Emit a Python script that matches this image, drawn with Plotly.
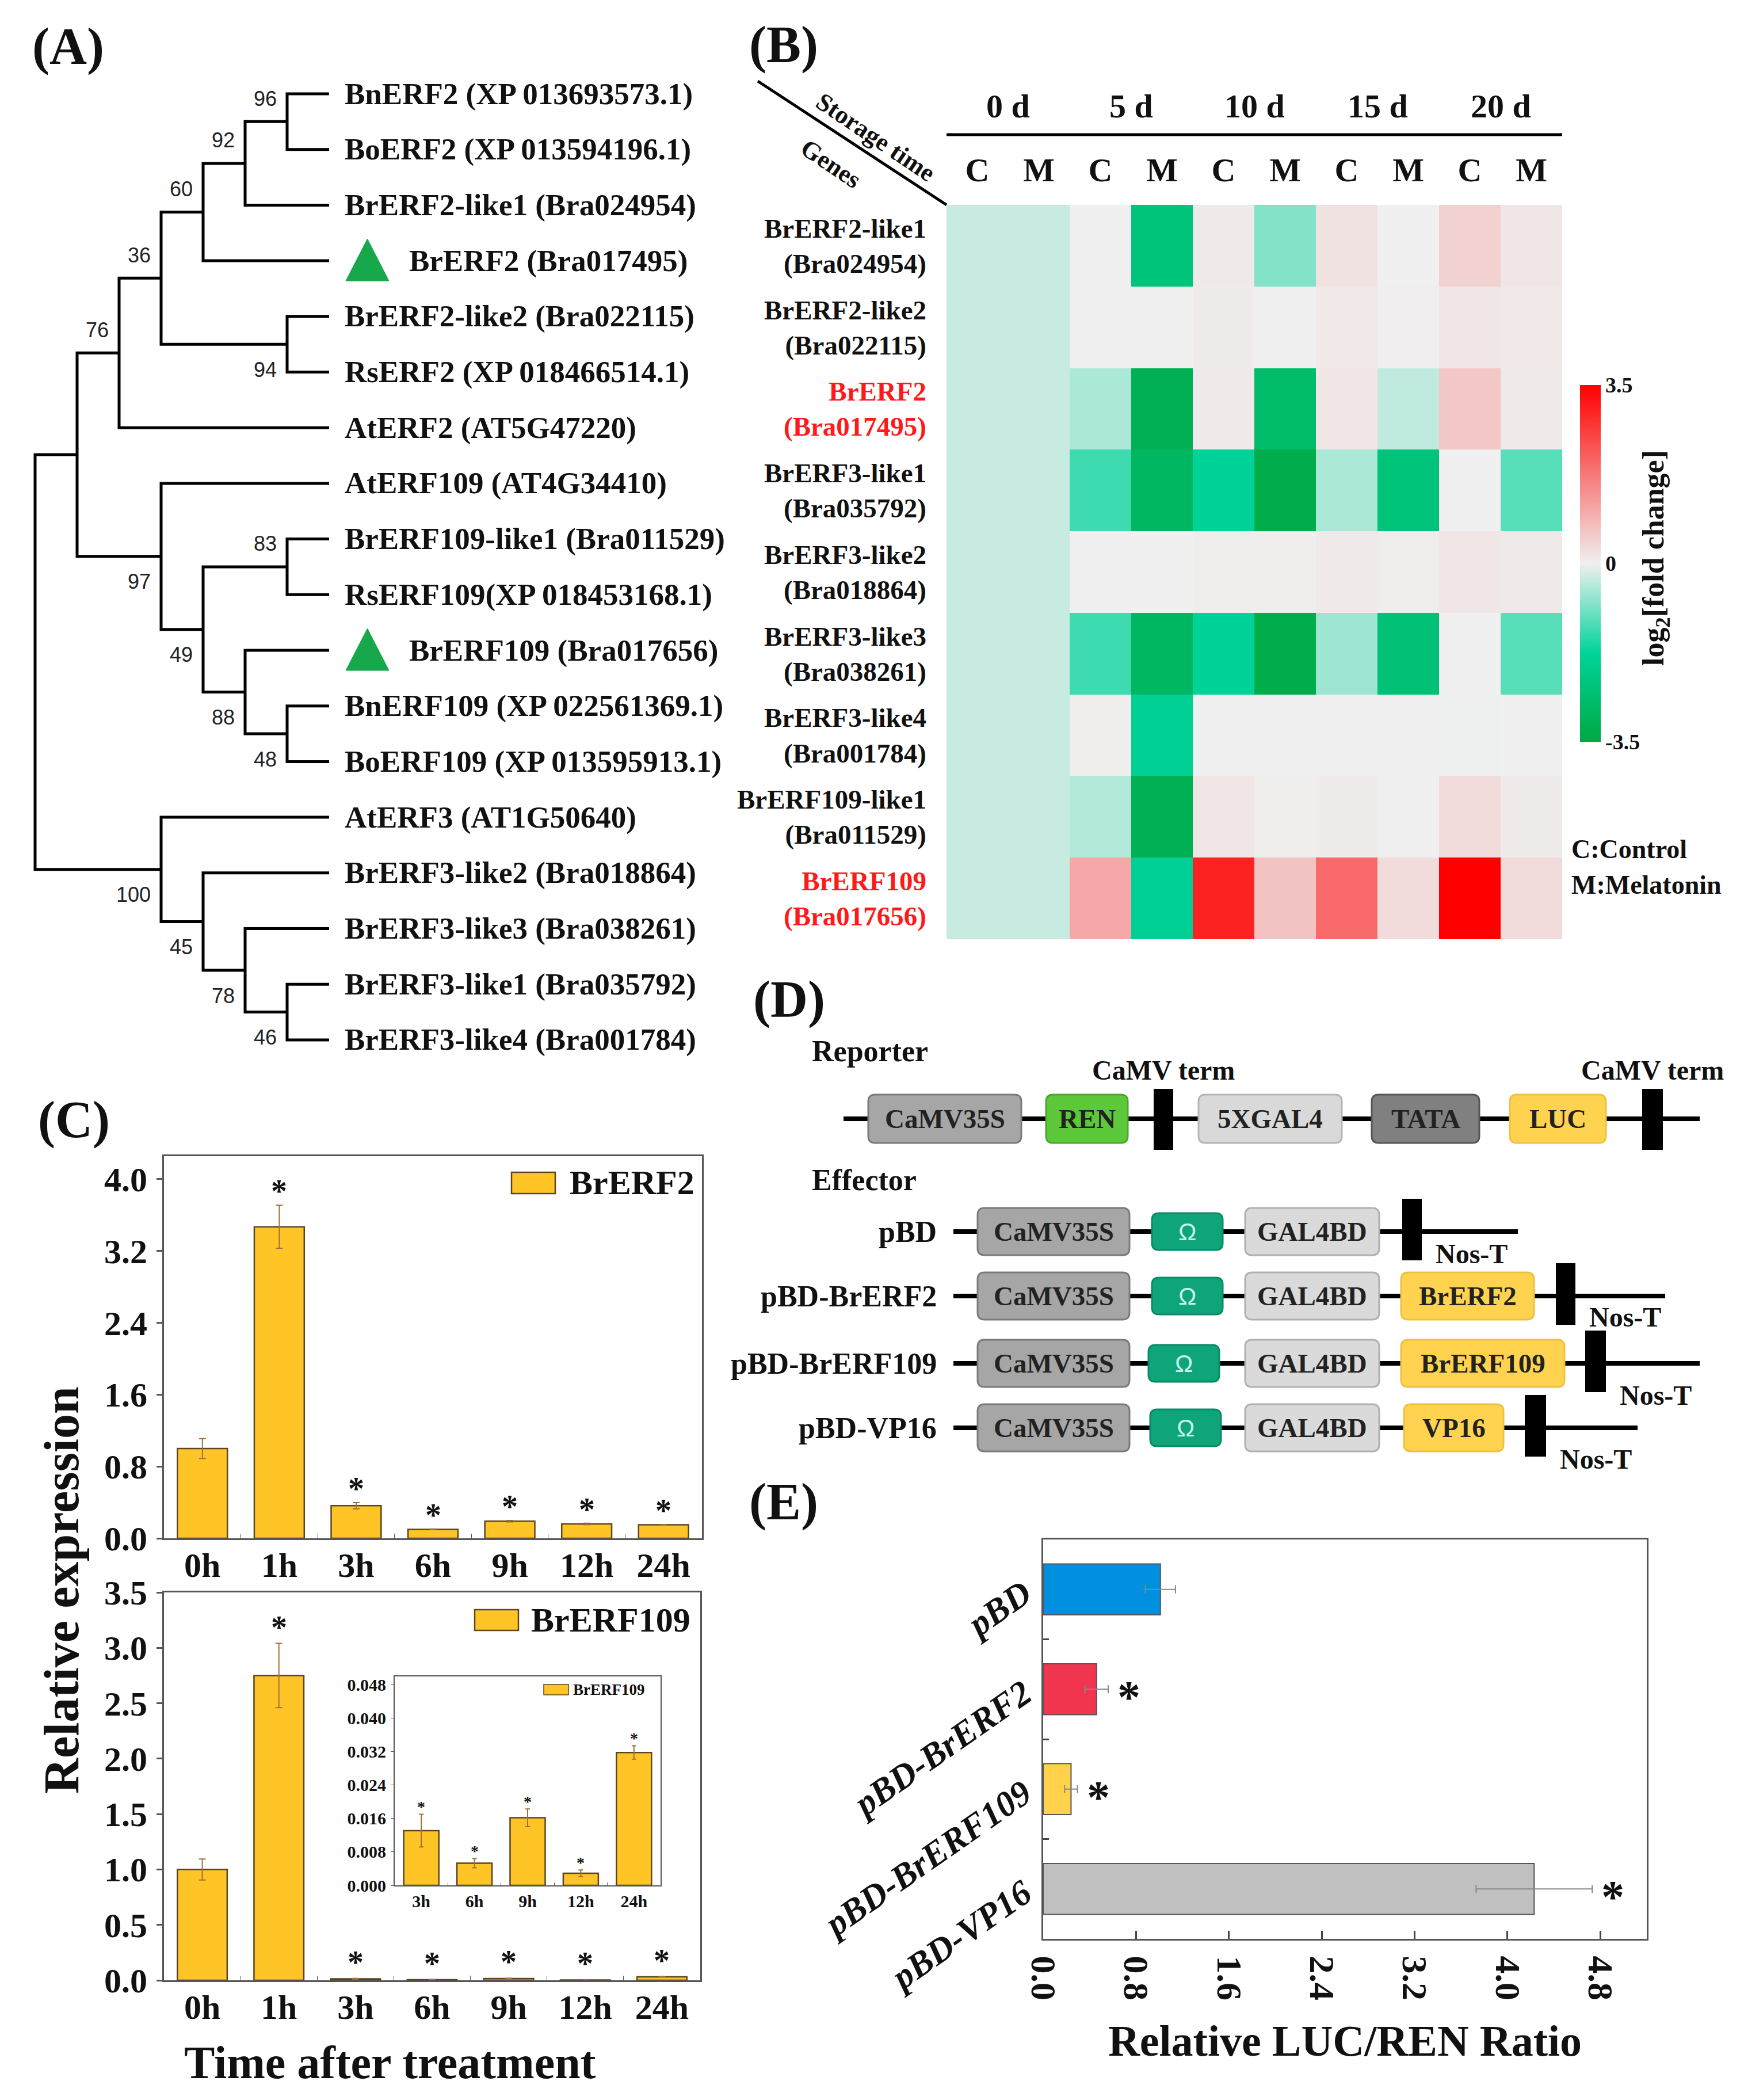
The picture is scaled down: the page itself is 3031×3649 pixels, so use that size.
import plotly.graph_objects as go

W, H = 3031, 3649
OFF = 8  # page body margin compensation (pixels)
SERIF = "Liberation Serif, Times New Roman, serif"
SANS = "Liberation Sans Narrow, Liberation Sans, Arial, sans-serif"
INK = "#111111"

# ---------------- Panel A: phylogenetic tree (topology + bootstrap) ----------------
tree = (None, [
    (None, [
        (76, [
            (36, [
                (60, [
                    (92, [
                        (96, ["BnERF2 (XP 013693573.1)", "BoERF2 (XP 013594196.1)"]),
                        "BrERF2-like1 (Bra024954)"]),
                    "BrERF2 (Bra017495)"]),
                (94, ["BrERF2-like2 (Bra022115)", "RsERF2 (XP 018466514.1)"])]),
            "AtERF2 (AT5G47220)"]),
        (97, [
            "AtERF109 (AT4G34410)",
            (49, [
                (83, ["BrERF109-like1 (Bra011529)", "RsERF109(XP 018453168.1)"]),
                (88, ["BrERF109 (Bra017656)",
                      (48, ["BnERF109 (XP 022561369.1)", "BoERF109 (XP 013595913.1)"])])])])]),
    (100, [
        "AtERF3 (AT1G50640)",
        (45, ["BrERF3-like2 (Bra018864)",
              (78, ["BrERF3-like3 (Bra038261)",
                    (46, ["BrERF3-like1 (Bra035792)", "BrERF3-like4 (Bra001784)"])])])])])
boot_above = {96, 92, 60, 36, 76, 83}
marked_leaves = {"BrERF2 (Bra017495)", "BrERF109 (Bra017656)"}

# ---------------- Panel B: heatmap ----------------
heat_genes = ["BrERF2-like1", "BrERF2-like2", "BrERF2", "BrERF3-like1", "BrERF3-like2",
              "BrERF3-like3", "BrERF3-like4", "BrERF109-like1", "BrERF109"]
heat_ids = ["Bra024954", "Bra022115", "Bra017495", "Bra035792", "Bra018864",
            "Bra038261", "Bra001784", "Bra011529", "Bra017656"]
heat_highlight = [False, False, True, False, False, False, False, False, True]
storage_days = ["0 d", "5 d", "10 d", "15 d", "20 d"]
treatments = ["C", "M"]
#            0C    0M    5C    5M    10C   10M   15C   15M   20C   20M
heat_values = [
    [-0.3, -0.3, 0.0, -2.4, 0.1, -0.8, 0.2, 0.0, 0.45, 0.15],
    [-0.3, -0.3, 0.0, 0.0, 0.08, 0.02, 0.12, 0.03, 0.15, 0.12],
    [-0.3, -0.3, -0.5, -3.2, 0.1, -2.7, 0.15, -0.35, 0.6, 0.1],
    [-0.3, -0.3, -1.3, -2.9, -1.8, -3.3, -0.5, -2.4, 0.0, -1.1],
    [-0.3, -0.3, 0.0, 0.0, 0.05, 0.05, 0.1, 0.05, 0.15, 0.1],
    [-0.3, -0.3, -1.3, -2.9, -1.8, -3.3, -0.6, -2.5, 0.0, -1.1],
    [-0.3, -0.3, 0.05, -1.9, 0.0, 0.0, 0.0, 0.0, -0.02, 0.0],
    [-0.3, -0.3, -0.45, -3.2, 0.15, 0.05, 0.08, 0.02, 0.3, 0.08],
    [-0.3, -0.3, 1.05, -1.9, 3.0, 0.65, 1.95, 0.3, 3.5, 0.3],
]

# ---------------- Panel C: qRT-PCR ----------------
times = ["0h", "1h", "3h", "6h", "9h", "12h", "24h"]
brerf2_expr = [1.0, 3.47, 0.363, 0.10, 0.19, 0.16, 0.15]
brerf2_err = [0.11, 0.24, 0.035, 0.004, 0.008, 0.008, 0.004]
brerf2_sig = [False, True, True, True, True, True, True]
brerf109_expr = [1.0, 2.75, 0.0131, 0.0053, 0.0162, 0.0029, 0.0318]
brerf109_err = [0.095, 0.29, 0.0039, 0.0011, 0.0021, 0.0008, 0.0016]
brerf109_sig = [False, True, True, True, True, True, True]

# ---------------- Panel E: dual luciferase ----------------
constructs = ["pBD", "pBD-BrERF2", "pBD-BrERF109", "pBD-VP16"]
luc_ren = [1.01, 0.46, 0.24, 4.23]
luc_ren_err = [0.13, 0.10, 0.055, 0.50]
luc_sig = [False, True, True, True]
construct_colors = ["#0090DF", "#F2354F", "#FFD24A", "#C0C0C0"]

# ---------------- Panel D: construct schematic ----------------
reporter_parts = [("box", "CaMV35S", 1509, 1775, "#A6A6A6", "#7A7A7A"),
                  ("box", "REN", 1818, 1960, "#5CC83A", "#4AA82E"),
                  ("term", None, 2005, 2039, None, None),
                  ("box", "5XGAL4", 2083, 2332, "#D9D9D9", "#B5B5B5"),
                  ("box", "TATA", 2384, 2571, "#808080", "#555555"),
                  ("box", "LUC", 2624, 2791, "#FFD34F", "#F0C040"),
                  ("term", None, 2854, 2890, None, None)]
effector_names = ["pBD", "pBD-BrERF2", "pBD-BrERF109", "pBD-VP16"]
effector_inserts = [None, "BrERF2", "BrERF109", "VP16"]

BAR_YELLOW = "#FFC526"

def px(x):
    return (x - OFF) / W

def py(y):
    return 1 - (y - OFF) / H

fig = go.Figure()
ann = []
shapes = []

def text(x, y, s, size, xanchor="center", yanchor="middle", family=SERIF, bold=True,
         color=INK, angle=0, xref="x", yref="y", xshift=0, yshift=0, style="normal"):
    ann.append(dict(x=x, y=y, text=s, xref=xref, yref=yref, showarrow=False,
                    xanchor=xanchor, yanchor=yanchor, textangle=angle,
                    xshift=xshift, yshift=yshift,
                    font=dict(family=family, size=size, color=color,
                              weight="bold" if bold else "normal", style=style)))

# ================= Panel A =================
leaf_order = []
def collect(n):
    if isinstance(n, str):
        leaf_order.append(n)
        return
    for c in n[1]:
        collect(c)
collect(tree)

LEAF_Y0, LEAF_DY, TIP_X, STEP = 163, 96.7, 572, 73
tx, ty, boots = [], [], []

def layout_node(n):
    if isinstance(n, str):
        return TIP_X, LEAF_Y0 + LEAF_DY * leaf_order.index(n), 0
    kids = [layout_node(c) for c in n[1]]
    h = max(k[2] for k in kids) + 1
    x = TIP_X - STEP * h
    ys = [k[1] for k in kids]
    y = (min(ys) + max(ys)) / 2
    first, last = kids[0], kids[-1]
    tx.extend([first[0], x, x, last[0], None])
    ty.extend([first[1], first[1], last[1], last[1], None])
    if n[0] is not None:
        boots.append((n[0], x, y))
    return x, y, h

layout_node(tree)
fig.add_trace(go.Scatter(x=tx, y=ty, mode="lines", line=dict(color="black", width=5),
                         hoverinfo="skip", xaxis="x", yaxis="y"))
for v, x, y in boots:
    text(x - 16, y - 40 if v in boot_above else y + 44, str(v), 36, xanchor="right",
         family=SANS, bold=False, color="#222222")
for i, leaf in enumerate(leaf_order):
    y = LEAF_Y0 + LEAF_DY * i
    if leaf in marked_leaves:
        fig.add_trace(go.Scatter(x=[601, 676, 638.5, 601], y=[y + 35, y + 35, y - 38, y + 35],
                                 mode="lines", fill="toself", fillcolor="#18A84C",
                                 line=dict(color="#18A84C", width=1), hoverinfo="skip",
                                 xaxis="x", yaxis="y"))
        text(709, y, leaf, 53, xanchor="left")
    else:
        text(597, y, leaf, 53, xanchor="left")
text(54, 81, "(A)", 90, xanchor="left")

# ================= Panel B =================
n_cols = len(storage_days) * len(treatments)
col_idx = list(range(n_cols))
fig.add_trace(go.Heatmap(
    z=heat_values, x=col_idx, y=list(range(len(heat_genes))),
    xaxis="x2", yaxis="y2", zmin=-3.5, zmax=3.5,
    colorscale=[[0, "#00A843"], [0.25, "#00D49A"], [0.5, "#F0F0F0"], [1, "#FF0000"]],
    hoverinfo="skip",
    colorbar=dict(x=px(2746), xanchor="left", y=py(979), yanchor="middle",
                  len=620, lenmode="pixels", thickness=36, thicknessmode="pixels",
                  tickvals=[-3.5, 0, 3.5], ticktext=["-3.5", "0", "3.5"], ticks="",
                  tickfont=dict(family=SERIF, size=38, color=INK, weight="bold"),
                  outlinewidth=0, xpad=0, ypad=0)))
row_text = []
for g, gid, hl in zip(heat_genes, heat_ids, heat_highlight):
    if hl:
        row_text.append(f"<span style='color:#FF1A1A'>{g}</span><br><span style='color:#FF1A1A'>({gid})</span>")
    else:
        row_text.append(f"{g}<br>({gid})")
for i, d in enumerate(storage_days):
    text(2 * i + 0.5, py(184), d, 58, xref="x2", yref="paper")
shapes.append(dict(type="line", xref="x2", yref="paper", x0=-0.5, x1=n_cols - 0.5,
                   y0=py(234), y1=py(234), line=dict(color="black", width=5)))
shapes.append(dict(type="line", xref="x", yref="y", x0=1317, y0=141, x1=1645, y1=356,
                   line=dict(color="black", width=5)))
text(1522, 238, "Storage time", 44, angle=34)
text(1444, 284, "Genes", 44, angle=34)
text(2877, 970, "log<sub>2</sub>[fold change]", 52, angle=-90)
text(2729, 1475, "C:Control", 46, xanchor="left")
text(2729, 1537, "M:Melatonin", 46, xanchor="left")
text(1300, 78, "(B)", 90, xanchor="left")

# ================= Panel C =================
def add_expr(xa, ya, cats, vals, errs, width, err_w):
    fig.add_trace(go.Bar(x=cats, y=vals, xaxis=xa, yaxis=ya, width=width,
                         marker=dict(color=BAR_YELLOW, line=dict(color="#5B4520", width=2.5)),
                         error_y=dict(type="data", array=errs, color="#A0703A",
                                      thickness=2, width=err_w), hoverinfo="skip"))

add_expr("x3", "y3", times, brerf2_expr, brerf2_err, 0.65, 6)
add_expr("x4", "y4", times, brerf109_expr, brerf109_err, 0.65, 6)
add_expr("x5", "y5", times[2:], brerf109_expr[2:], brerf109_err[2:], 0.66, 4)

for t, v, e, s in zip(times, brerf2_expr, brerf2_err, brerf2_sig):
    if s:
        text(t, v + e, "*", 56, xref="x3", yref="y3", yshift=24)
for t, v, e, s in zip(times, brerf109_expr, brerf109_err, brerf109_sig):
    if s:
        text(t, v + e, "*", 56, xref="x4", yref="y4", yshift=28)
for t, v, e, s in zip(times[2:], brerf109_expr[2:], brerf109_err[2:], brerf109_sig[2:]):
    if s:
        text(t, v + e, "*", 28, xref="x5", yref="y5", yshift=13)

# manual legends
shapes.append(dict(type="rect", xref="x", yref="y", x0=889, x1=965, y0=2037, y1=2074,
                   fillcolor=BAR_YELLOW, line=dict(color="#5B4520", width=2.5)))
text(988, 2055, "BrERF2", 60, xanchor="left")
shapes.append(dict(type="rect", xref="x", yref="y", x0=825, x1=901, y0=2797, y1=2833,
                   fillcolor=BAR_YELLOW, line=dict(color="#5B4520", width=2.5)))
text(921, 2815, "BrERF109", 60, xanchor="left")
shapes.append(dict(type="rect", xref="x", yref="y", x0=945, x1=988, y0=2927, y1=2945,
                   fillcolor=BAR_YELLOW, line=dict(color="#5B4520", width=1.5)))
text(994, 2936, "BrERF109", 27, xanchor="left")
text(107, 2763, "Relative expression", 86, angle=-90)
text(678, 3584, "Time after treatment", 80)
text(64, 1946, "(C)", 90, xanchor="left")

# ================= Panel D =================
def rrect(x0, y0, x1, y1, r):
    return (f"M{x0 + r},{y0} L{x1 - r},{y0} Q{x1},{y0} {x1},{y0 + r} L{x1},{y1 - r} "
            f"Q{x1},{y1} {x1 - r},{y1} L{x0 + r},{y1} Q{x0},{y1} {x0},{y1 - r} "
            f"L{x0},{y0 + r} Q{x0},{y0} {x0 + r},{y0} Z")

def dline(x0, x1, y):
    shapes.append(dict(type="line", xref="x", yref="y", x0=x0, x1=x1, y0=y, y1=y,
                       line=dict(color="black", width=8)))

def dbox(x0, x1, yc, h, fill, edge, label, fcolor="#222222", family=SERIF, size=47, bold=True):
    shapes.append(dict(type="path", xref="x", yref="y",
                       path=rrect(x0, yc - h / 2, x1, yc + h / 2, 12),
                       fillcolor=fill, line=dict(color=edge, width=3)))
    text((x0 + x1) / 2, yc, label, size, family=family, bold=bold, color=fcolor)

def dterm(x0, x1, ytop, ybot):
    shapes.append(dict(type="rect", xref="x", yref="y", x0=x0, x1=x1, y0=ytop, y1=ybot,
                       fillcolor="black", line=dict(width=0)))

REP_Y = 1944
dline(1466, 2954, REP_Y)
for kind, lab, x0, x1, fill, edge in reporter_parts:
    if kind == "box":
        dbox(x0, x1, REP_Y, 84, fill, edge, lab)
    else:
        dterm(x0, x1, REP_Y - 52, REP_Y + 54)
        text((x0 + x1) / 2, 1859, "CaMV term", 48)
text(1409, 1826, "Reporter", 52, xanchor="left")
text(1409, 2050, "Effector", 52, xanchor="left")

row_y = [2140, 2252, 2369, 2481]
insert_x = [None, (2435, 2666), (2435, 2719), (2440, 2613)]
term_x = [(2437, 2471), (2704, 2738), (2755, 2791), (2650, 2687)]
line_end = [2638, 2894, 2954, 2846]
omega_x = [(2002, 2125), (2002, 2125), (1996, 2119), (1999, 2122)]
nos_dy = [38, 36, 55, 54]
for i, name in enumerate(effector_names):
    yc = row_y[i]
    dline(1657, line_end[i], yc)
    dbox(1699, 1963, yc, 82, "#A6A6A6", "#7A7A7A", "CaMV35S")
    dbox(omega_x[i][0], omega_x[i][1], yc, 64, "#0EA57A", "#0A8A66", "Ω",
         fcolor="#C8F5EE", family=SANS, size=42, bold=False)
    dbox(2164, 2397, yc, 82, "#DADADA", "#B0B0B0", "GAL4BD")
    if effector_inserts[i]:
        dbox(insert_x[i][0], insert_x[i][1], yc, 82, "#FFD34F", "#F0C040", effector_inserts[i])
    dterm(term_x[i][0], term_x[i][1], yc - 57, yc + 50)
    text(term_x[i][1] + 22, yc + nos_dy[i], "Nos-T", 48, xanchor="left")
    text(1630, yc, name, 52, xanchor="right")
text(1307, 1737, "(D)", 90, xanchor="left")

# ================= Panel E =================
fig.add_trace(go.Bar(y=constructs, x=luc_ren, orientation="h", xaxis="x6", yaxis="y6",
                     width=0.51, hoverinfo="skip",
                     marker=dict(color=construct_colors, line=dict(color="#555555", width=2)),
                     error_x=dict(type="data", array=luc_ren_err, color="#888888",
                                  thickness=2, width=7)))
for c, v, e, s in zip(constructs, luc_ren, luc_ren_err, luc_sig):
    if s:
        text(v + e, c, "*", 80, xref="x6", yref="y6", xanchor="left", xshift=14, yshift=-14)
text(1300, 2610, "(E)", 90, xanchor="left")

# ================= Layout =================
tf60 = dict(family=SERIF, size=60, color=INK, weight="bold")
frame = dict(showline=True, mirror=True, linecolor="#555555", linewidth=3, showgrid=False,
             zeroline=False, automargin=False)

fig.update_layout(
    width=W, height=H, margin=dict(l=0, r=0, t=0, b=0, pad=0, autoexpand=False),
    paper_bgcolor="white", plot_bgcolor="rgba(0,0,0,0)", showlegend=False,
    annotations=ann, shapes=shapes,
    xaxis=dict(domain=[0, 1], range=[OFF, W + OFF], visible=False, fixedrange=True),
    yaxis=dict(domain=[0, 1], range=[H + OFF, OFF], visible=False, fixedrange=True),
    # heatmap
    xaxis2=dict(domain=[px(1645), px(2715)], anchor="y2", side="top", range=[-0.5, n_cols - 0.5],
                tickvals=col_idx, ticktext=treatments * len(storage_days), ticks="",
                showline=False, showgrid=False, zeroline=False, ticklabelstandoff=28,
                automargin=False,
                tickfont=dict(family=SERIF, size=58, color=INK, weight="bold")),
    yaxis2=dict(domain=[py(1632), py(356)], anchor="x2", range=[len(heat_genes) - 0.5, -0.5],
                tickvals=list(range(len(heat_genes))), ticktext=row_text, ticks="",
                showline=False, showgrid=False, zeroline=False, ticklabelstandoff=34,
                automargin=False,
                tickfont=dict(family=SERIF, size=47, color=INK, weight="bold")),
    # C top
    xaxis3=dict(domain=[px(285), px(1220)], anchor="y3", type="category", tickson="boundaries",
                ticks="inside", ticklen=8, tickcolor="#555555", ticklabelstandoff=-8,
                tickfont=tf60, **frame),
    yaxis3=dict(domain=[py(2673), py(2009)], anchor="x3", range=[0, 4.256], tick0=0, dtick=0.8,
                tickformat=".1f", ticks="outside", ticklen=10, tickwidth=3, tickcolor="#555555",
                ticklabelstandoff=4, tickfont=tf60, **frame),
    # C bottom
    xaxis4=dict(domain=[px(285), px(1217)], anchor="y4", type="category", tickson="boundaries",
                ticks="inside", ticklen=8, tickcolor="#555555", ticklabelstandoff=-8,
                tickfont=tf60, **frame),
    yaxis4=dict(domain=[py(3441), py(2767)], anchor="x4", range=[0, 3.5], tick0=0, dtick=0.5,
                tickformat=".1f", ticks="outside", ticklen=10, tickwidth=3, tickcolor="#555555",
                ticklabelstandoff=4, tickfont=tf60, **frame),
    # inset
    xaxis5=dict(domain=[px(686), px(1148)], anchor="y5", type="category", tickson="boundaries",
                ticks="inside", ticklen=5, tickcolor="#555555", ticklabelstandoff=0,
                tickfont=dict(family=SERIF, size=30, color=INK, weight="bold"),
                showline=True, mirror=True, linecolor="#555555", linewidth=2, showgrid=False,
                zeroline=False, automargin=False),
    yaxis5=dict(domain=[py(3276), py(2913)], anchor="x5", range=[0, 0.05], tick0=0, dtick=0.008,
                tickformat=".3f", ticks="outside", ticklen=5, tickcolor="#555555",
                ticklabelstandoff=2,
                tickfont=dict(family=SERIF, size=30, color=INK, weight="bold"),
                showline=True, mirror=True, linecolor="#555555", linewidth=2, showgrid=False,
                zeroline=False, automargin=False),
    # E
    xaxis6=dict(domain=[px(1813), px(2862)], anchor="y6", range=[0, 5.2], tick0=0, dtick=0.8,
                tickformat=".1f", ticks="inside", ticklen=14, tickwidth=3, tickcolor="#444444",
                tickangle=90, ticklabelstandoff=14,
                tickfont=dict(family=SERIF, size=62, color=INK, weight="bold"),
                title=dict(text="Relative LUC/REN Ratio", standoff=44,
                           font=dict(family=SERIF, size=76, color=INK, weight="bold")),
                **frame),
    yaxis6=dict(domain=[py(3369), py(2675)], anchor="x6", type="category", autorange="reversed",
                tickson="boundaries", ticks="inside", ticklen=10, tickwidth=3, tickcolor="#444444",
                tickangle=-35, ticklabelstandoff=18,
                tickfont=dict(family=SERIF, size=62, color=INK, weight="bold", style="italic"),
                **frame),
)

fig.write_html("out.html")
